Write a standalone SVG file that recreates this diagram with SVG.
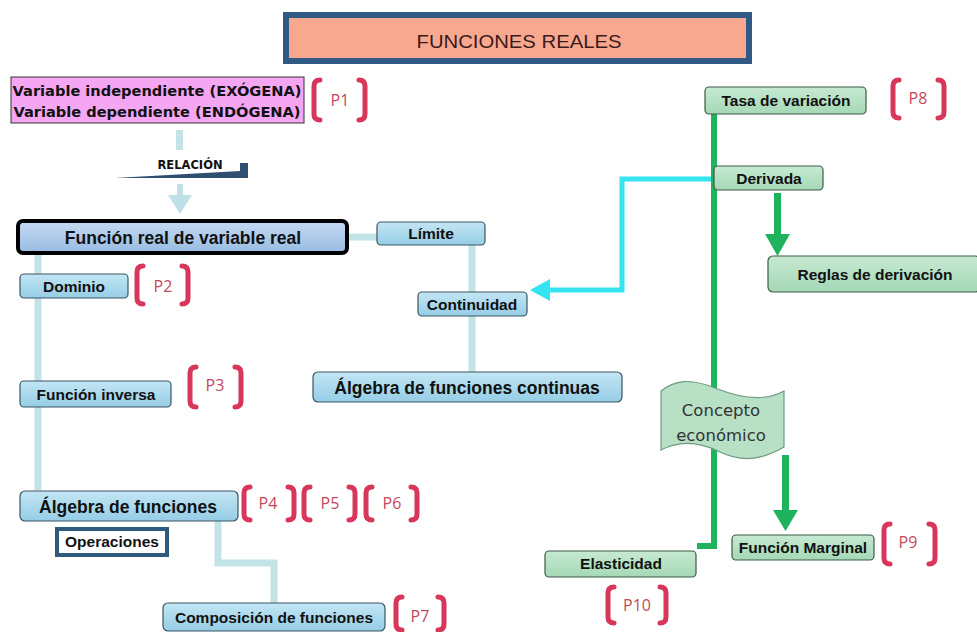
<svg xmlns="http://www.w3.org/2000/svg" width="977" height="632" viewBox="0 0 977 632">
<defs>
<linearGradient id="gBlue" x1="0" y1="0" x2="0" y2="1"><stop offset="0" stop-color="#c3e6f4"/><stop offset="1" stop-color="#95cde6"/></linearGradient>
<linearGradient id="gMain" x1="0" y1="0" x2="0" y2="1"><stop offset="0" stop-color="#c4daf2"/><stop offset="1" stop-color="#98bbe2"/></linearGradient>
<linearGradient id="gGreen" x1="0" y1="0" x2="0" y2="1"><stop offset="0" stop-color="#c6ead2"/><stop offset="1" stop-color="#a5d8b6"/></linearGradient>
<style>
.bx{fill:url(#gBlue);stroke:#3d5563;stroke-width:1.2}
.gx{fill:url(#gGreen);stroke:#3d5a48;stroke-width:1.2}
.t{font-family:"Liberation Sans",Arial,sans-serif;font-weight:bold;fill:#111;text-anchor:middle;font-size:15.5px}
.L{font-size:17.5px}
.br{fill:none;stroke:#d8365a;stroke-width:5;stroke-linecap:round;stroke-linejoin:round}
.p{font-family:"Open Sans","Liberation Sans",sans-serif;font-size:16px;fill:#c44a5c;text-anchor:middle}
.lb{fill:none;stroke:#c4e3e7;stroke-width:7}
.gr{fill:none;stroke:#1fb35e;stroke-width:6}
</style>
</defs>
<g id="connectors">
<path class="lb" d="M38,253 V490"/>
<path class="lb" d="M347,237 H377"/>
<path class="lb" d="M472,245 V292 M472,316 V372"/>
<path class="lb" d="M218,521 V563 H274 V603"/>
<rect x="176" y="130" width="7" height="20" fill="#c4e3e7"/>
<path d="M177,184 h6 v11 h9 l-12,19 l-12,-19 h9 z" fill="#bfe0e6"/>
<path d="M115,178 L240,171 V163 H248 V178 Z" fill="#2f4f70"/>
<path d="M714,179 H622 V290 H548" fill="none" stroke="#36e3f0" stroke-width="5"/>
<path d="M550,279 L530,290 L550,301 Z" fill="#36e3f0"/>
<path class="gr" d="M714,114 V546 H697"/>
<rect x="774" y="193" width="7" height="42" fill="#1fb35e"/>
<path d="M765,234 H790 L777.5,256 Z" fill="#1fb35e"/>
<rect x="782" y="455" width="7" height="56" fill="#1fb35e"/>
<path d="M773,510 H798 L785.5,531 Z" fill="#1fb35e"/>
</g>
<g id="title">
<rect x="286" y="15" width="463" height="46" fill="#f9a890" stroke="#2e5a85" stroke-width="6"/>
<text x="519" y="48" font-family="'Liberation Sans',Arial,sans-serif" font-size="18" fill="#3a1a1a" text-anchor="middle" textLength="205" lengthAdjust="spacingAndGlyphs">FUNCIONES REALES</text>
</g>
<g id="variables">
<rect x="11" y="77" width="293" height="46" fill="#f4a6f3" stroke="#333" stroke-width="1"/>
<text x="157" y="96" font-family="'DejaVu Sans',Verdana,sans-serif" font-weight="bold" font-size="14.6" fill="#111" text-anchor="middle">Variable independiente (EXÓGENA)</text>
<text x="157" y="117" font-family="'DejaVu Sans',Verdana,sans-serif" font-weight="bold" font-size="14.6" fill="#111" text-anchor="middle">Variable dependiente (ENDÓGENA)</text>
</g>
<g id="relacion">
<text x="190" y="169" font-family="'DejaVu Sans',Verdana,sans-serif" font-weight="bold" font-size="11.5" fill="#111" text-anchor="middle">RELACIÓN</text>
</g>
<g id="funcion-real">
<rect x="18" y="221" width="329" height="32" rx="5" fill="url(#gMain)" stroke="#000" stroke-width="4"/>
<text class="t L" x="183" y="244">Función real de variable real</text>
</g>
<g id="limite"><rect class="bx" x="377" y="222" width="108" height="23" rx="4"/><text class="t" x="431" y="239">Límite</text></g>
<g id="continuidad"><rect class="bx" x="418" y="292" width="109" height="24" rx="4"/><text class="t" x="472" y="310">Continuidad</text></g>
<g id="algebra-continuas"><rect class="bx" x="313" y="372" width="309" height="30" rx="5"/><text class="t L" x="467" y="394">Álgebra de funciones continuas</text></g>
<g id="dominio"><rect class="bx" x="20" y="274" width="108" height="24" rx="4"/><text class="t" x="74" y="292">Dominio</text></g>
<g id="funcion-inversa"><rect class="bx" x="20" y="381" width="151" height="26" rx="4"/><text class="t" x="96" y="400">Función inversa</text></g>
<g id="algebra-funciones"><rect class="bx" x="20" y="491" width="218" height="30" rx="5"/><text class="t L" x="128" y="513">Álgebra de funciones</text></g>
<g id="operaciones"><rect x="57" y="529" width="110" height="26" fill="#fff" stroke="#2e5a80" stroke-width="4"/><text class="t" x="112" y="547" font-size="14.5">Operaciones</text></g>
<g id="composicion"><rect class="bx" x="163" y="603" width="222" height="28" rx="5"/><text class="t" x="274" y="623">Composición de funciones</text></g>
<g id="tasa"><rect class="gx" x="705" y="87" width="161" height="27" rx="4"/><text class="t" x="786" y="106">Tasa de variación</text></g>
<g id="derivada"><rect class="gx" x="714" y="166" width="109" height="24" rx="4"/><text class="t" x="769" y="184">Derivada</text></g>
<g id="reglas"><rect class="gx" x="768" y="256" width="212" height="36" rx="5"/><text class="t" x="875" y="280">Reglas de derivación</text></g>
<g id="concepto">
<path d="M661,391 C675,380 690,378 715,388 C740,398 765,402 784,391 L784,447 C765,458 745,464 720,452 C700,442 680,440 661,450 Z" fill="#b7e0c5" stroke="#6f9a80" stroke-width="1.2"/>
<text x="721" y="416" font-family="'DejaVu Sans',sans-serif" font-size="16.5" fill="#333" text-anchor="middle">Concepto</text>
<text x="721" y="441" font-family="'DejaVu Sans',sans-serif" font-size="16.5" fill="#333" text-anchor="middle">económico</text>
</g>
<g id="marginal"><rect class="gx" x="732" y="535" width="142" height="25" rx="4"/><text class="t" x="803" y="553">Función Marginal</text></g>
<g id="elasticidad"><rect class="gx" x="545" y="551" width="151" height="26" rx="4"/><text class="t" x="621" y="569">Elasticidad</text></g>
<g id="p1"><path class="br" d="M320,80 Q314,80 314,86 V114 Q314,120 320,120 M359,80 Q365,80 365,86 V114 Q365,120 359,120"/><text class="p" x="340" y="106">P1</text></g>
<g id="p2"><path class="br" d="M143,266 Q137,266 137,272 V298 Q137,304 143,304 M182,266 Q188,266 188,272 V298 Q188,304 182,304"/><text class="p" x="163" y="292">P2</text></g>
<g id="p3"><path class="br" d="M196,367 Q190,367 190,373 V401 Q190,407 196,407 M235,367 Q241,367 241,373 V401 Q241,407 235,407"/><text class="p" x="215" y="391">P3</text></g>
<g id="p4"><path class="br" d="M250,487 Q244,487 244,493 V514 Q244,520 250,520 M288,487 Q294,487 294,493 V514 Q294,520 288,520"/><text class="p" x="268" y="509">P4</text></g>
<g id="p5"><path class="br" d="M310,487 Q304,487 304,493 V514 Q304,520 310,520 M349,487 Q355,487 355,493 V514 Q355,520 349,520"/><text class="p" x="330" y="509">P5</text></g>
<g id="p6"><path class="br" d="M372,487 Q366,487 366,493 V514 Q366,520 372,520 M411,487 Q417,487 417,493 V514 Q417,520 411,520"/><text class="p" x="392" y="509">P6</text></g>
<g id="p7"><path class="br" d="M402,597 Q396,597 396,603 V624 Q396,630 402,630 M438,597 Q444,597 444,603 V624 Q444,630 438,630"/><text class="p" x="420" y="622">P7</text></g>
<g id="p8"><path class="br" d="M899,80 Q893,80 893,86 V112 Q893,118 899,118 M938,80 Q944,80 944,86 V112 Q944,118 938,118"/><text class="p" x="918" y="104">P8</text></g>
<g id="p9"><path class="br" d="M890,524 Q884,524 884,530 V558 Q884,564 890,564 M929,524 Q935,524 935,530 V558 Q935,564 929,564"/><text class="p" x="908" y="548">P9</text></g>
<g id="p10"><path class="br" d="M614,587 Q608,587 608,593 V617 Q608,623 614,623 M660,587 Q666,587 666,593 V617 Q666,623 660,623"/><text class="p" x="637" y="611">P10</text></g>
</svg>
